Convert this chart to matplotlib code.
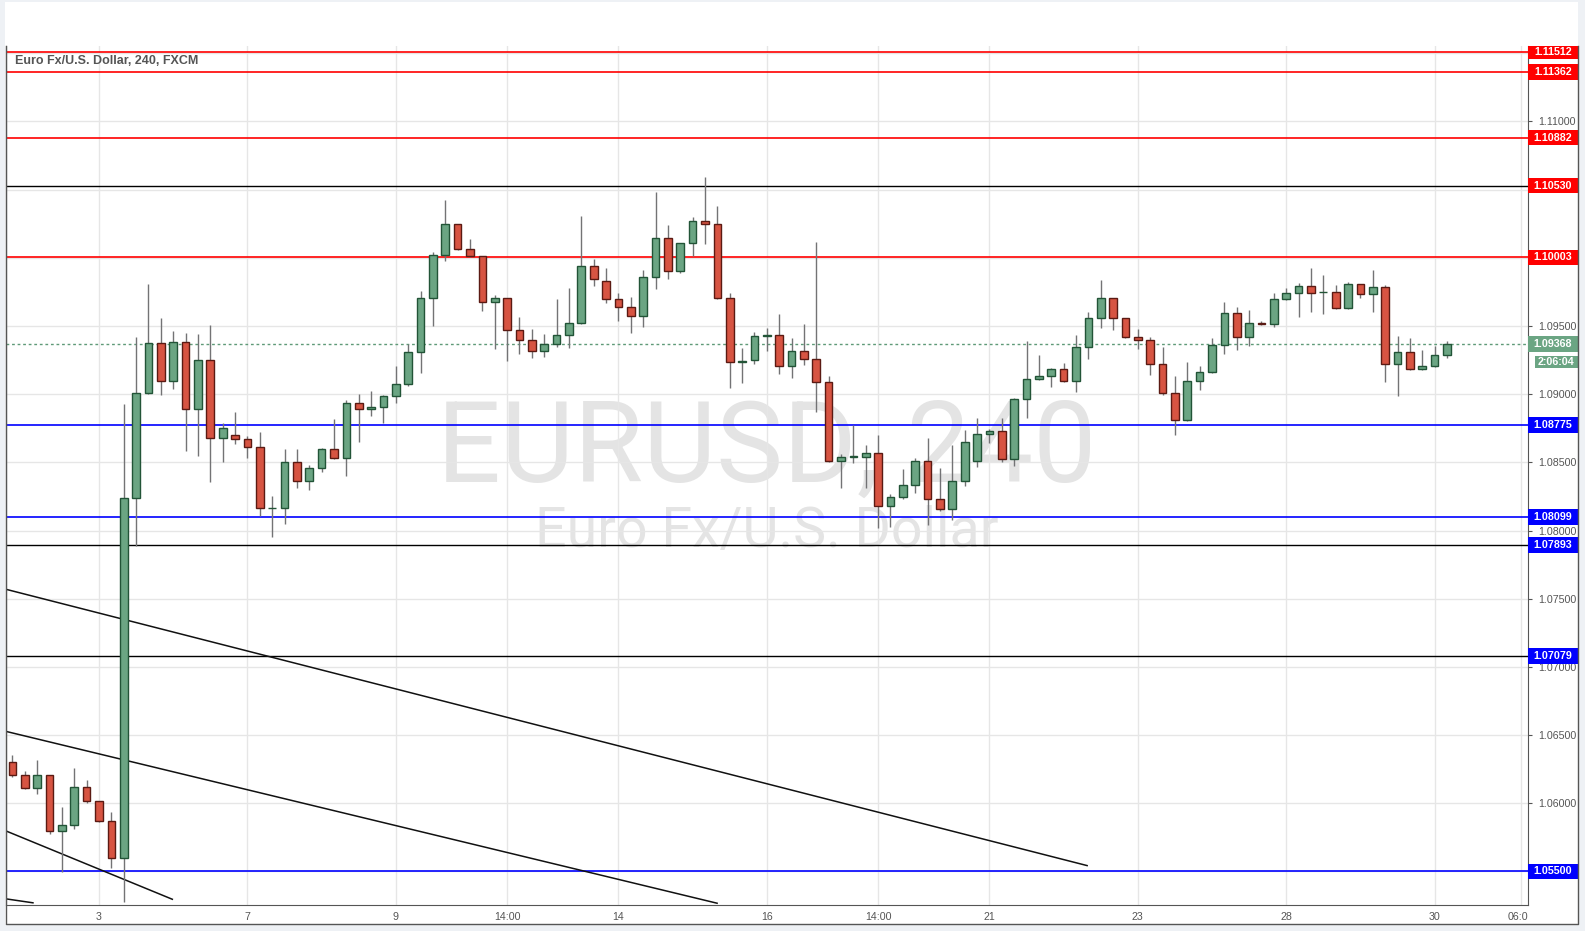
import numpy as np
import matplotlib
matplotlib.use('Agg')
import matplotlib.pyplot as plt
from matplotlib.patches import Rectangle
from matplotlib.lines import Line2D
from matplotlib.transforms import Bbox, TransformedBbox, blended_transform_factory

# EURUSD 4H candles (FXCM), early March 2016 -> 30 March
opens = [1.06301, 1.06205, 1.06110, 1.06205, 1.05795, 1.05839, 1.06117, 1.06015, 1.05868, 1.05597,
         1.08237, 1.09006, 1.09373, 1.09094, 1.09380, 1.08889, 1.09248, 1.08677, 1.08699, 1.08669,
         1.08611, 1.08163, 1.08163, 1.08501, 1.08361, 1.08457, 1.08596, 1.08530, 1.08933, 1.08889,
         1.08904, 1.08984, 1.09072, 1.09307, 1.09703, 1.10018, 1.10246, 1.10062, 1.10011, 1.09674,
         1.09703, 1.09468, 1.09395, 1.09314, 1.09366, 1.09432, 1.09520, 1.09938, 1.09828, 1.09696,
         1.09637, 1.09571, 1.09857, 1.10143, 1.09901, 1.10106, 1.10268, 1.10246, 1.09703, 1.09234,
         1.09248, 1.09427, 1.09432, 1.09204, 1.09314, 1.09256, 1.09087, 1.08508, 1.08542, 1.08542,
         1.08567, 1.08182, 1.08244, 1.08332, 1.08508, 1.08229, 1.08160, 1.08361, 1.08508, 1.08706,
         1.08728, 1.08527, 1.08962, 1.09109, 1.09131, 1.09182, 1.09094, 1.09344, 1.09556, 1.09703,
         1.09556, 1.09417, 1.09395, 1.09219, 1.09006, 1.08809, 1.09094, 1.09160, 1.09358, 1.09593,
         1.09417, 1.09520, 1.09512, 1.09696, 1.09740, 1.09791, 1.09746, 1.09747, 1.09630, 1.09806,
         1.09732, 1.09784, 1.09219, 1.09307, 1.09182, 1.09204, 1.09285]
highs = [1.06354, 1.06237, 1.06317, 1.06210, 1.05971, 1.06257, 1.06169, 1.06020, 1.05936, 1.08928,
         1.09417, 1.09808, 1.09556, 1.09463, 1.09449, 1.09441, 1.09507, 1.08786, 1.08867, 1.08693,
         1.08723, 1.08253, 1.08598, 1.08598, 1.08481, 1.08603, 1.08818, 1.08957, 1.09001, 1.09023,
         1.08994, 1.09207, 1.09366, 1.09757, 1.10043, 1.10424, 1.10250, 1.10138, 1.10015, 1.09727,
         1.09707, 1.09566, 1.09478, 1.09441, 1.09698, 1.09779, 1.10307, 1.09991, 1.09925, 1.09742,
         1.09713, 1.09908, 1.10483, 1.10241, 1.10110, 1.10299, 1.10593, 1.10380, 1.09740, 1.09339,
         1.09454, 1.09483, 1.09588, 1.09410, 1.09512, 1.10114, 1.09131, 1.08561, 1.08774, 1.08627,
         1.08701, 1.08268, 1.08451, 1.08532, 1.08679, 1.08459, 1.08627, 1.08737, 1.08825, 1.08745,
         1.08825, 1.08970, 1.09390, 1.09287, 1.09190, 1.09226, 1.09432, 1.09600, 1.09837, 1.09707,
         1.09560, 1.09476, 1.09417, 1.09344, 1.09131, 1.09234, 1.09204, 1.09410, 1.09674, 1.09637,
         1.09615, 1.09534, 1.09740, 1.09776, 1.09813, 1.09923, 1.09874, 1.09801, 1.09820, 1.09810,
         1.09911, 1.09801, 1.09424, 1.09410, 1.09322, 1.09351, 1.09388]
lows = [1.06195, 1.06105, 1.06070, 1.05777, 1.05494, 1.05809, 1.06004, 1.05860, 1.05523, 1.05276,
        1.07887, 1.09000, 1.08996, 1.09040, 1.08586, 1.08549, 1.08358, 1.08505, 1.08633, 1.08534,
        1.08109, 1.07955, 1.08050, 1.08314, 1.08300, 1.08432, 1.08525, 1.08402, 1.08652, 1.08842,
        1.08791, 1.08938, 1.09062, 1.09158, 1.09502, 1.09979, 1.10055, 1.10005, 1.09612, 1.09334,
        1.09246, 1.09297, 1.09268, 1.09275, 1.09348, 1.09341, 1.09515, 1.09796, 1.09671, 1.09539,
        1.09451, 1.09495, 1.09774, 1.09847, 1.09891, 1.10016, 1.10104, 1.09695, 1.09048, 1.09084,
        1.09224, 1.09319, 1.09150, 1.09121, 1.09216, 1.08872, 1.08500, 1.08314, 1.08498, 1.08314,
        1.08021, 1.08028, 1.08234, 1.08278, 1.08043, 1.08146, 1.08080, 1.08327, 1.08466, 1.08640,
        1.08505, 1.08476, 1.08828, 1.09102, 1.09056, 1.09088, 1.09018, 1.09260, 1.09482, 1.09467,
        1.09410, 1.09329, 1.09143, 1.08992, 1.08699, 1.08801, 1.09029, 1.09155, 1.09292, 1.09322,
        1.09351, 1.09505, 1.09490, 1.09688, 1.09564, 1.09600, 1.09586, 1.09625, 1.09625, 1.09703,
        1.09600, 1.09092, 1.08989, 1.09178, 1.09178, 1.09197, 1.09263]
closes = [1.06205, 1.06110, 1.06205, 1.05795, 1.05839, 1.06117, 1.06015, 1.05868, 1.05597, 1.08237,
          1.09006, 1.09373, 1.09094, 1.09380, 1.08889, 1.09248, 1.08677, 1.08750, 1.08669, 1.08611,
          1.08163, 1.08166, 1.08501, 1.08361, 1.08457, 1.08596, 1.08530, 1.08933, 1.08889, 1.08904,
          1.08984, 1.09072, 1.09307, 1.09703, 1.10018, 1.10246, 1.10062, 1.10011, 1.09674, 1.09703,
          1.09468, 1.09395, 1.09314, 1.09366, 1.09432, 1.09520, 1.09938, 1.09843, 1.09696, 1.09637,
          1.09571, 1.09857, 1.10143, 1.09901, 1.10106, 1.10268, 1.10246, 1.09703, 1.09234, 1.09241,
          1.09424, 1.09432, 1.09204, 1.09314, 1.09256, 1.09087, 1.08508, 1.08537, 1.08545, 1.08567,
          1.08182, 1.08244, 1.08332, 1.08508, 1.08229, 1.08160, 1.08361, 1.08647, 1.08706, 1.08728,
          1.08527, 1.08962, 1.09109, 1.09131, 1.09182, 1.09094, 1.09344, 1.09556, 1.09703, 1.09556,
          1.09417, 1.09395, 1.09219, 1.09006, 1.08809, 1.09094, 1.09160, 1.09358, 1.09593, 1.09417,
          1.09520, 1.09512, 1.09696, 1.09740, 1.09791, 1.09740, 1.09749, 1.09630, 1.09806, 1.09732,
          1.09784, 1.09219, 1.09307, 1.09182, 1.09204, 1.09285, 1.09368]

time_ticks = [7, 19, 31, 40, 49, 61, 70, 79, 91, 103, 115, 122]
time_labels = ['3', '7', '9', '14:00', '14', '16', '14:00', '21', '23', '28', '30', '06:00']
price_ticks = [1.055, 1.060, 1.065, 1.070, 1.075, 1.080, 1.085, 1.090, 1.095,
               1.100, 1.105, 1.110, 1.115]
# labels that sit fully behind a level tag on the price scale
hidden_ticks = [1.055, 1.100, 1.105, 1.115]

red_levels = [1.11512, 1.11362, 1.10882, 1.10003]
blue_levels = [1.08775, 1.08099, 1.05500]
black_levels = [1.10530, 1.07893, 1.07079]
black_level_tags = ['#ff0000', '#0000ff', '#0000ff']
last_price = 1.09368
countdown = '2:06:04'

# trend lines (candle index, price)
trend_x = [[-0.52, 86.9], [-0.52, 56.98], [-0.52, 12.93], [-0.52, 1.66]]
trend_y = [[1.07569, 1.05543], [1.06527, 1.05267], [1.05797, 1.05296], [1.05299, 1.05270]]

plt.rcParams['font.family'] = ['Liberation Sans', 'DejaVu Sans']

W, H = 1585, 931
fig = plt.figure(figsize=(W / 100, H / 100), dpi=100, facecolor='#eef1f5')

# white chart panel
fig.patches.append(Rectangle((5 / W, 7 / H), 1573 / W, 922 / H, transform=fig.transFigure,
                             facecolor='white', edgecolor='none', zorder=-10))

left, right, bottom, top = 6 / W, 1528 / W, 26 / H, (H - 46) / H
ax = fig.add_axes([left, bottom, right - left, top - bottom])
ax2 = fig.add_axes([right, bottom, 1578 / W - right, top - bottom], sharey=ax)

o = np.array(opens); h = np.array(highs); l = np.array(lows); c = np.array(closes)
x = np.arange(len(o))
up = c >= o
body_lo = np.minimum(o, c)
body_h = np.abs(c - o)

ax.vlines(x, l, h, color='#737375', lw=1, zorder=3)
ax.bar(x[up], body_h[up], bottom=body_lo[up], width=0.62, color='#6ba583',
       edgecolor='#225437', lw=1, zorder=4)
ax.bar(x[~up], body_h[~up], bottom=body_lo[~up], width=0.62, color='#d75442',
       edgecolor='#5b1a13', lw=1, zorder=4)

for p in red_levels:
    ax.axhline(p, color='#ff0000', lw=1.2, zorder=2)
for p in blue_levels:
    ax.axhline(p, color='#0000ff', lw=1.2, zorder=2)
for p in black_levels:
    ax.axhline(p, color='#000000', lw=1, zorder=2)
ax.axhline(last_price, color='#5f9a78', lw=1, ls=(0, (2, 2)), zorder=2)

for tx, ty in zip(trend_x, trend_y):
    ax.plot(tx, ty, color='#111111', lw=1.1, zorder=2)

# watermark
ax.text(0.5, 0.4924, 'EURUSD, 240', transform=ax.transAxes, ha='center', va='baseline',
        fontsize=81, family='Roboto', color='#e4e4e4', zorder=0.3)
ax.text(0.5, 0.4168, 'Euro Fx/U.S. Dollar', transform=ax.transAxes, ha='center', va='baseline',
        fontsize=40, family='Roboto', color='#e4e4e4', zorder=0.3)

ax.text(0.0059, 0.9825, 'Euro Fx/U.S. Dollar, 240, FXCM', transform=ax.transAxes,
        ha='left', va='center', fontsize=9, fontweight='bold', color='#555555', zorder=6)

ax.set_xlim(-0.52, 122.55)
ax.set_ylim(1.05254, 1.11553)
ax.set_xticks(time_ticks)
ax.set_xticklabels(time_labels)
ax.set_yticks(price_ticks)
ax.set_yticklabels(['' if t in hidden_ticks else '%.5f' % t for t in price_ticks])
ax.yaxis.tick_right()
ax.tick_params(axis='y', direction='out', length=3, pad=4, color='#555555',
               labelcolor='#555555', labelsize=7.7)
ax.tick_params(axis='x', length=0, pad=5, labelcolor='#555555', labelsize=7.7)
ax.grid(True, color='#e6e6e6', lw=1)
ax.set_axisbelow(True)
for s in ['left', 'right', 'bottom']:
    ax.spines[s].set_color('#555555')
ax.spines['top'].set_visible(False)

clip = TransformedBbox(Bbox([[0, -1], [1, 1]]), ax.transAxes)
for lbl in ax.get_xticklabels():
    lbl.set_clip_box(clip)
    lbl.set_clip_on(True)

# price scale tags
ax2.set_axis_off()
tr = blended_transform_factory(ax2.transAxes, ax2.transData)
tag_h = 0.00114


def tag(p, txt, color, x0=0.0, hh=tag_h):
    ax2.add_patch(Rectangle((x0, p - hh / 2), 1 - x0, hh, transform=tr, facecolor=color,
                            edgecolor='none', clip_on=True))
    ax2.text((1 + x0) / 2, p, txt, transform=tr, ha='center', va='center', color='white',
             fontsize=7.7, fontweight='bold', clip_on=True)


for p in red_levels:
    tag(p, '%.5f' % p, '#ff0000')
for p in blue_levels:
    tag(p, '%.5f' % p, '#0000ff')
for p, col in zip(black_levels, black_level_tags):
    tag(p, '%.5f' % p, col)
tag(last_price, '%.5f' % last_price, '#6ba583')
tag(last_price - 0.00132, countdown, '#6ba583', x0=0.14, hh=0.00092)

fig.lines.append(Line2D([6 / W, 6 / W, 1578 / W, 1578 / W], [top, 7 / H, 7 / H, top],
                        transform=fig.transFigure, color='#555555', lw=1))

fig.savefig('out.png', dpi=100, facecolor=fig.get_facecolor())
